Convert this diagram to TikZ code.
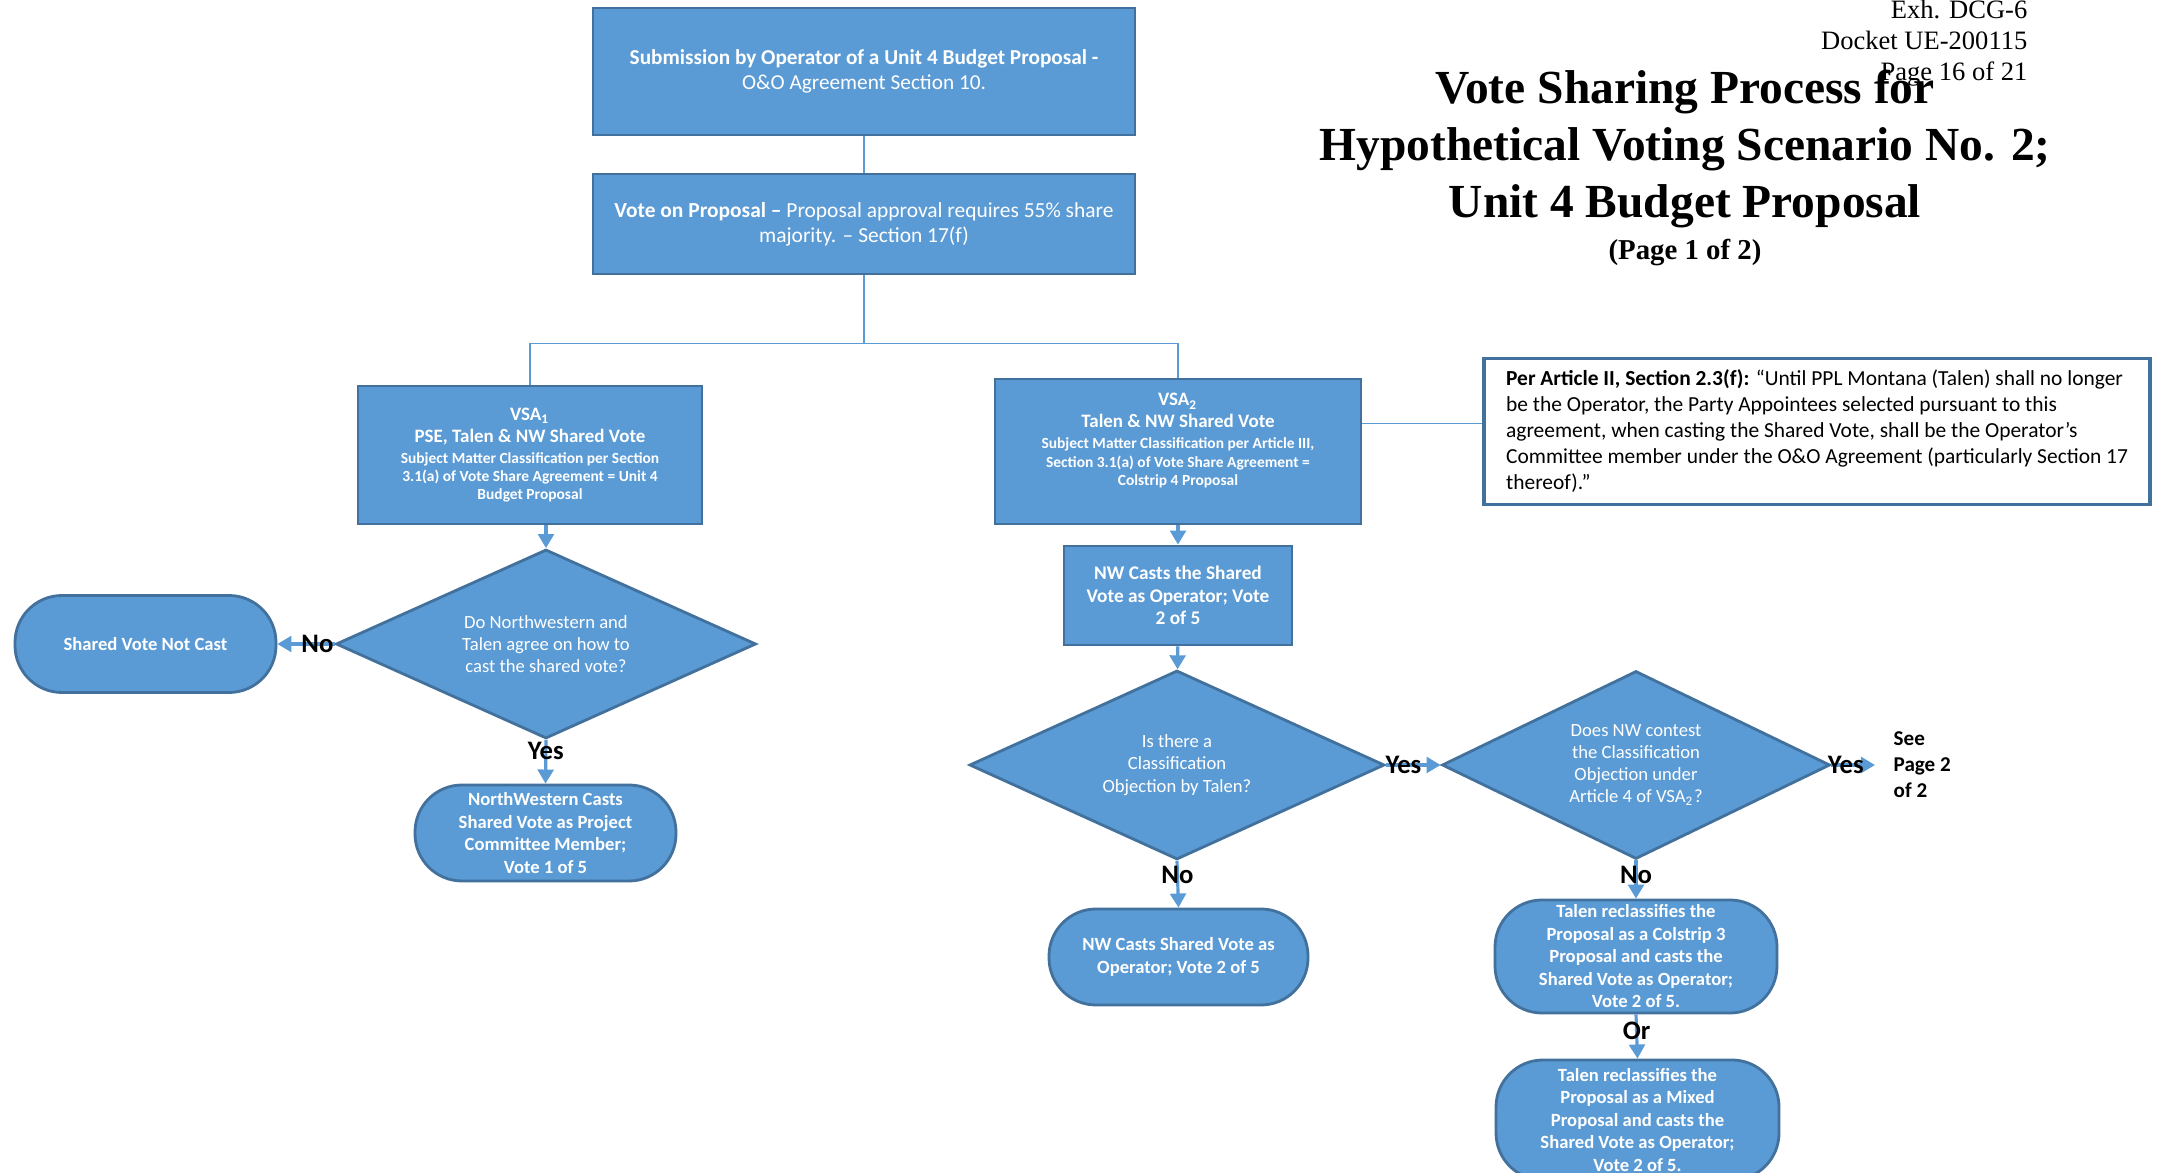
\documentclass[tikz,border=0pt]{standalone}
\usepackage{fontspec}
\setmainfont{Carlito}
\newfontfamily\serifhead{Liberation Serif}
\usetikzlibrary{arrows.meta,shapes.geometric}
\definecolor{flowblue}{RGB}{91,155,213}
\definecolor{flowedge}{RGB}{65,113,156}
\def\fsz#1#2{\fontsize{#1pt}{#2pt}\selectfont}
\tikzset{
	procbox/.style={draw=flowedge, fill=flowblue, line width=0.8pt, text=white, align=center, inner sep=0pt},
	decision/.style={diamond, shape aspect=2, draw=flowedge, fill=flowblue, line width=0.8pt, text=white, align=center, inner sep=0pt, font=\fsz{5.3}{6.3}},
	pill/.style={procbox, rounded corners=0.47cm, font=\fsz{5.3}{6.4}\bfseries},
	link/.style={draw=flowblue, line width=0.5pt},
	flow/.style={link, line width=0.9pt, -{Triangle[width=4.5pt,length=4pt]}},
	answer/.style={font=\fsz{7.6}{9}\bfseries, inner sep=0pt},
}

\begin{document}
\begin{tikzpicture}
		%%%%% START %%%%%
		\useasboundingbox (0, 0) rectangle (21.62, -11.73);
		\fill[white] (0, 0) rectangle (21.62, -11.73);
		
		% heading
		\node[anchor=east, align=right, inner sep=0pt, font=\serifhead\fsz{7.55}{8.8}] (exhibit) at (20.28, -0.43) {Exh. DCG-6\\Docket UE-200115\\Page 16 of 21};
		\node[align=center, inner sep=0pt, font=\serifhead\bfseries\fsz{13.5}{16.2}] (title) at (16.85, -1.49) {Vote Sharing Process for\\Hypothetical Voting Scenario No. 2;\\Unit 4 Budget Proposal};
		\node[inner sep=0pt, font=\serifhead\bfseries\fsz{8.2}{9.8}] (titlepage) at (16.85, -2.53) {(Page 1 of 2)};
		
		% top of the flow
		\node[procbox, minimum width=5.42cm, minimum height=1.27cm, font=\fsz{6.05}{7.1}] (submit) at (8.64, -0.715) {\textbf{Submission by Operator of a Unit 4 Budget Proposal -}\\O\&O Agreement Section 10.};
		\node[procbox, minimum width=5.42cm, minimum height=1.00cm, font=\fsz{6.1}{7.1}] (vote) at (8.64, -2.24) {\textbf{Vote on Proposal –} Proposal approval requires 55\% share\\majority. – Section 17(f)};
		
		\node[procbox, minimum width=3.44cm, minimum height=1.38cm, font=\fsz{5.4}{6.3}\bfseries] (vsaone) at (5.30, -4.55) {VSA\textsubscript{1}\\PSE, Talen \& NW Shared Vote\\[-0.4pt]{\fsz{4.4}{5.3}Subject Matter Classification per Section}\\[-1pt]{\fsz{4.4}{5.3}3.1(a) of Vote Share Agreement = Unit 4}\\[-1.2pt]{\fsz{4.4}{5.3}Budget Proposal}};
		\node[procbox, minimum width=3.66cm, minimum height=1.45cm] (vsatwo) at (11.78, -4.515) {};
		\node[align=center, inner sep=0pt, text=white, font=\fsz{5.4}{6.3}\bfseries] (vsatwotext) at ([yshift=0.11cm]vsatwo.center) {VSA\textsubscript{2}\\Talen \& NW Shared Vote\\[-0.4pt]{\fsz{4.4}{5.3}Subject Matter Classification per Article III,}\\[-1pt]{\fsz{4.4}{5.3}Section 3.1(a) of Vote Share Agreement =}\\[-1.2pt]{\fsz{4.4}{5.3}Colstrip 4 Proposal}};
		
		\node[draw=flowedge, line width=0.9pt, fill=white, align=left, inner xsep=0.17cm, minimum width=6.66cm, minimum height=1.41cm, font=\fsz{6.1}{7.4}] (quote) at (18.17, -4.315) {\textbf{Per Article II, Section 2.3(f):} “Until PPL Montana (Talen) shall no longer\\be the Operator, the Party Appointees selected pursuant to this\\agreement, when casting the Shared Vote, shall be the Operator’s\\Committee member under the O\&O Agreement (particularly Section 17\\thereof).”};
		
		% left branch
		\node[decision, minimum width=4.20cm, minimum height=1.89cm] (agree) at (5.46, -6.44) {Do Northwestern and\\Talen agree on how to\\cast the shared vote?};
		\node[pill, minimum width=2.61cm, minimum height=0.97cm] (nocast) at (1.455, -6.44) {Shared Vote Not Cast};
		\node[pill, minimum width=2.61cm, minimum height=0.96cm] (nwproject) at (5.455, -8.33) {NorthWestern Casts\\Shared Vote as Project\\Committee Member;\\Vote 1 of 5};
		
		% right branch
		\node[procbox, minimum width=2.28cm, minimum height=0.99cm, font=\fsz{5.5}{6.4}\bfseries] (nwoperator) at (11.78, -5.955) {NW Casts the Shared\\Vote as Operator; Vote\\2 of 5};
		\node[decision, minimum width=4.15cm, minimum height=1.89cm] (objection) at (11.77, -7.65) {Is there a\\Classification\\Objection by Talen?};
		\node[decision, minimum width=3.88cm, minimum height=1.88cm] (contest) at (16.36, -7.65) {Does NW contest\\the Classification\\Objection under\\Article 4 of VSA\textsubscript{2}?};
		\node[anchor=west, align=left, inner sep=0pt, font=\fsz{6}{7.4}\bfseries] (seepage) at (18.93, -7.65) {See\\Page 2\\of 2};
		\node[pill, minimum width=2.59cm, minimum height=0.96cm] (nwshared) at (11.785, -9.57) {NW Casts Shared Vote as\\Operator; Vote 2 of 5};
		\node[pill, minimum width=2.82cm, minimum height=1.13cm] (colstrip) at (16.36, -9.565) {Talen reclassifies the\\Proposal as a Colstrip 3\\Proposal and casts the\\Shared Vote as Operator;\\Vote 2 of 5.};
		\node[pill, minimum width=2.83cm, minimum height=1.20cm] (mixed) at (16.375, -11.20) {Talen reclassifies the\\Proposal as a Mixed\\Proposal and casts the\\Shared Vote as Operator;\\Vote 2 of 5.};
		
		% connectors
		\draw[link] (submit) -- (vote);
		\draw[link] (vote.south) -- ++(0, -0.68) coordinate (fork);
		\draw[link] (vsaone.north) |- (fork) -| (vsatwo.north);
		\draw[link] ([yshift=0.08cm]quote.west) -- ([yshift=0.08cm]quote.west -| vsatwo.east);
		
		\draw[flow] (agree.north |- vsaone.south) -- (agree.north);
		\draw[flow] (agree.west) -- node[answer, pos=0.3] {No} (nocast.east);
		\draw[flow] (agree.south) -- node[answer, pos=0.26] {Yes} (nwproject.north);
		
		\draw[flow] (vsatwo.south) -- (nwoperator.north);
		\draw[flow] (nwoperator) -- (objection);
		\draw[flow] (objection.east) -- node[answer, pos=0.32] {Yes} (contest.west);
		\draw[flow] (contest.east) -- node[answer, pos=0.33] {Yes} ([xshift=-0.18cm]seepage.west);
		\draw[flow] (objection.south) -- node[answer, pos=0.3] {No} (nwshared.north);
		\draw[flow] (contest.south) -- node[answer, pos=0.37] {No} (colstrip.north);
		\draw[flow] (colstrip.south) -- node[answer, pos=0.38] {Or} (mixed.north);
		%%%%% END %%%%%
	\end{tikzpicture}
\end{document}
